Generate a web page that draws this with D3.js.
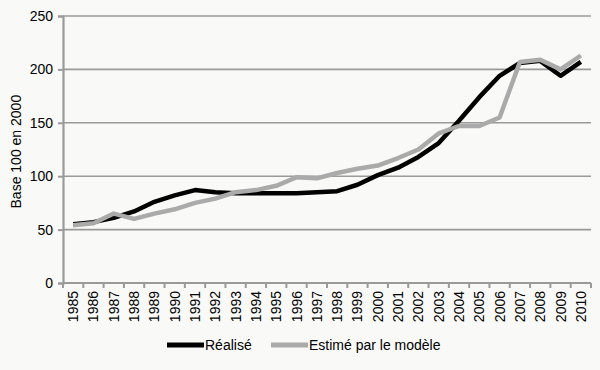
<!DOCTYPE html>
<html>
<head>
<meta charset="utf-8">
<script src="https://cdn.jsdelivr.net/npm/d3@7"></script>
<style>
  body { margin: 0; background: #f9f9f7; }
  svg { display: block; font-family: "Liberation Sans", Arial, sans-serif; }
</style>
</head>
<body>
<svg id="chart" width="600" height="370"></svg>
<script>
// years on the x axis
var years = ["1985","1986","1987","1988","1989","1990","1991","1992","1993","1994",
  "1995","1996","1997","1998","1999","2000","2001","2002","2003","2004",
  "2005","2006","2007","2008","2009","2010"];

// base 100 en 2000
var realise = [55, 57, 61, 67, 76, 82, 87, 85, 84, 84, 84, 84, 85, 86, 92, 101,
  108, 118, 131, 152, 174, 194, 206, 208, 194, 207];
var estime = [54, 56, 65, 60, 65, 69, 75, 79, 85, 87, 91, 99, 98, 103, 107, 110,
  117, 125, 140, 147, 147, 155, 207, 209, 200, 213];

var yTicks = [0, 50, 100, 150, 200, 250];

var series = [
  { name: "Réalisé", values: realise, color: "#000000" },
  { name: "Estimé par le modèle", values: estime, color: "#aaaaaa" }
];

/*
 * LAYOUT
 */
var margin = { left: 63, right: 9, top: 16, bottom: 87 };
var svg = d3.select("#chart");
var W = 600, H = 370;

var x = d3.scaleBand().domain(years).range([margin.left, W - margin.right]);
var y = d3.scaleLinear().domain([0, 250]).range([H - margin.bottom, margin.top]);

// gridlines
svg.append("g").selectAll("line")
  .data(yTicks.filter(function (d) { return d > 0; }))
  .join("line")
  .attr("x1", margin.left).attr("x2", W - margin.right)
  .attr("y1", function (d) { return y(d); })
  .attr("y2", function (d) { return y(d); })
  .attr("stroke", "#9a9a9a")
  .attr("stroke-width", 1.6);

// y axis
var yAxis = svg.append("g")
  .attr("transform", "translate(" + margin.left + ",0)")
  .call(d3.axisLeft(y).tickValues(yTicks).tickSize(5).tickPadding(5));
yAxis.select(".domain").attr("stroke", "#9a9a9a").attr("stroke-width", 2.2);
yAxis.selectAll(".tick line").attr("stroke", "#9a9a9a").attr("stroke-width", 2);
yAxis.selectAll("text").attr("font-size", 14).attr("fill", "#000")
  .attr("font-family", "Liberation Sans, Arial, sans-serif");

// x axis: ticks at band boundaries
var xAxisG = svg.append("g")
  .attr("transform", "translate(0," + y(0) + ")");
xAxisG.append("line")
  .attr("x1", margin.left).attr("x2", W - margin.right)
  .attr("stroke", "#9a9a9a").attr("stroke-width", 2.2);
var bounds = years.map(function (d) { return x(d); }).concat([x(years[years.length - 1]) + x.bandwidth()]);
xAxisG.selectAll("line.tk").data(bounds).join("line")
  .attr("class", "tk")
  .attr("x1", function (d) { return d; }).attr("x2", function (d) { return d; })
  .attr("y1", 0).attr("y2", 5)
  .attr("stroke", "#9a9a9a").attr("stroke-width", 2);
xAxisG.selectAll("text").data(years).join("text")
  .attr("transform", function (d) {
    return "translate(" + (x(d) + x.bandwidth() / 2 + 5) + ",8) rotate(-90)";
  })
  .attr("text-anchor", "end")
  .attr("font-size", 14)
  .text(function (d) { return d; });

// y title
svg.append("text")
  .attr("transform", "translate(21," + y(123) + ") rotate(-90)")
  .attr("text-anchor", "middle")
  .attr("font-size", 14)
  .text("Base 100 en 2000");

// lines
var line = d3.line()
  .x(function (d, i) { return x(years[i]) + x.bandwidth() / 2; })
  .y(function (d) { return y(d); });

svg.append("path").datum(realise)
  .attr("d", line).attr("fill", "none")
  .attr("stroke", series[0].color).attr("stroke-width", 4.5)
  .attr("stroke-linejoin", "round");
svg.append("path").datum(estime)
  .attr("d", line).attr("fill", "none")
  .attr("stroke", series[1].color).attr("stroke-width", 4.5)
  .attr("stroke-linejoin", "round");

// legend
var legendPos = [167, 271];
var lg = svg.append("g").selectAll("g").data(series).join("g")
  .attr("transform", function (d, i) { return "translate(" + legendPos[i] + ",345)"; });
lg.append("line")
  .attr("x1", 0).attr("x2", 37)
  .attr("stroke", function (d) { return d.color; })
  .attr("stroke-width", 5);
lg.append("text")
  .attr("x", 38).attr("y", 5)
  .attr("font-size", 14)
  .text(function (d) { return d.name; });
</script>
</body>
</html>
